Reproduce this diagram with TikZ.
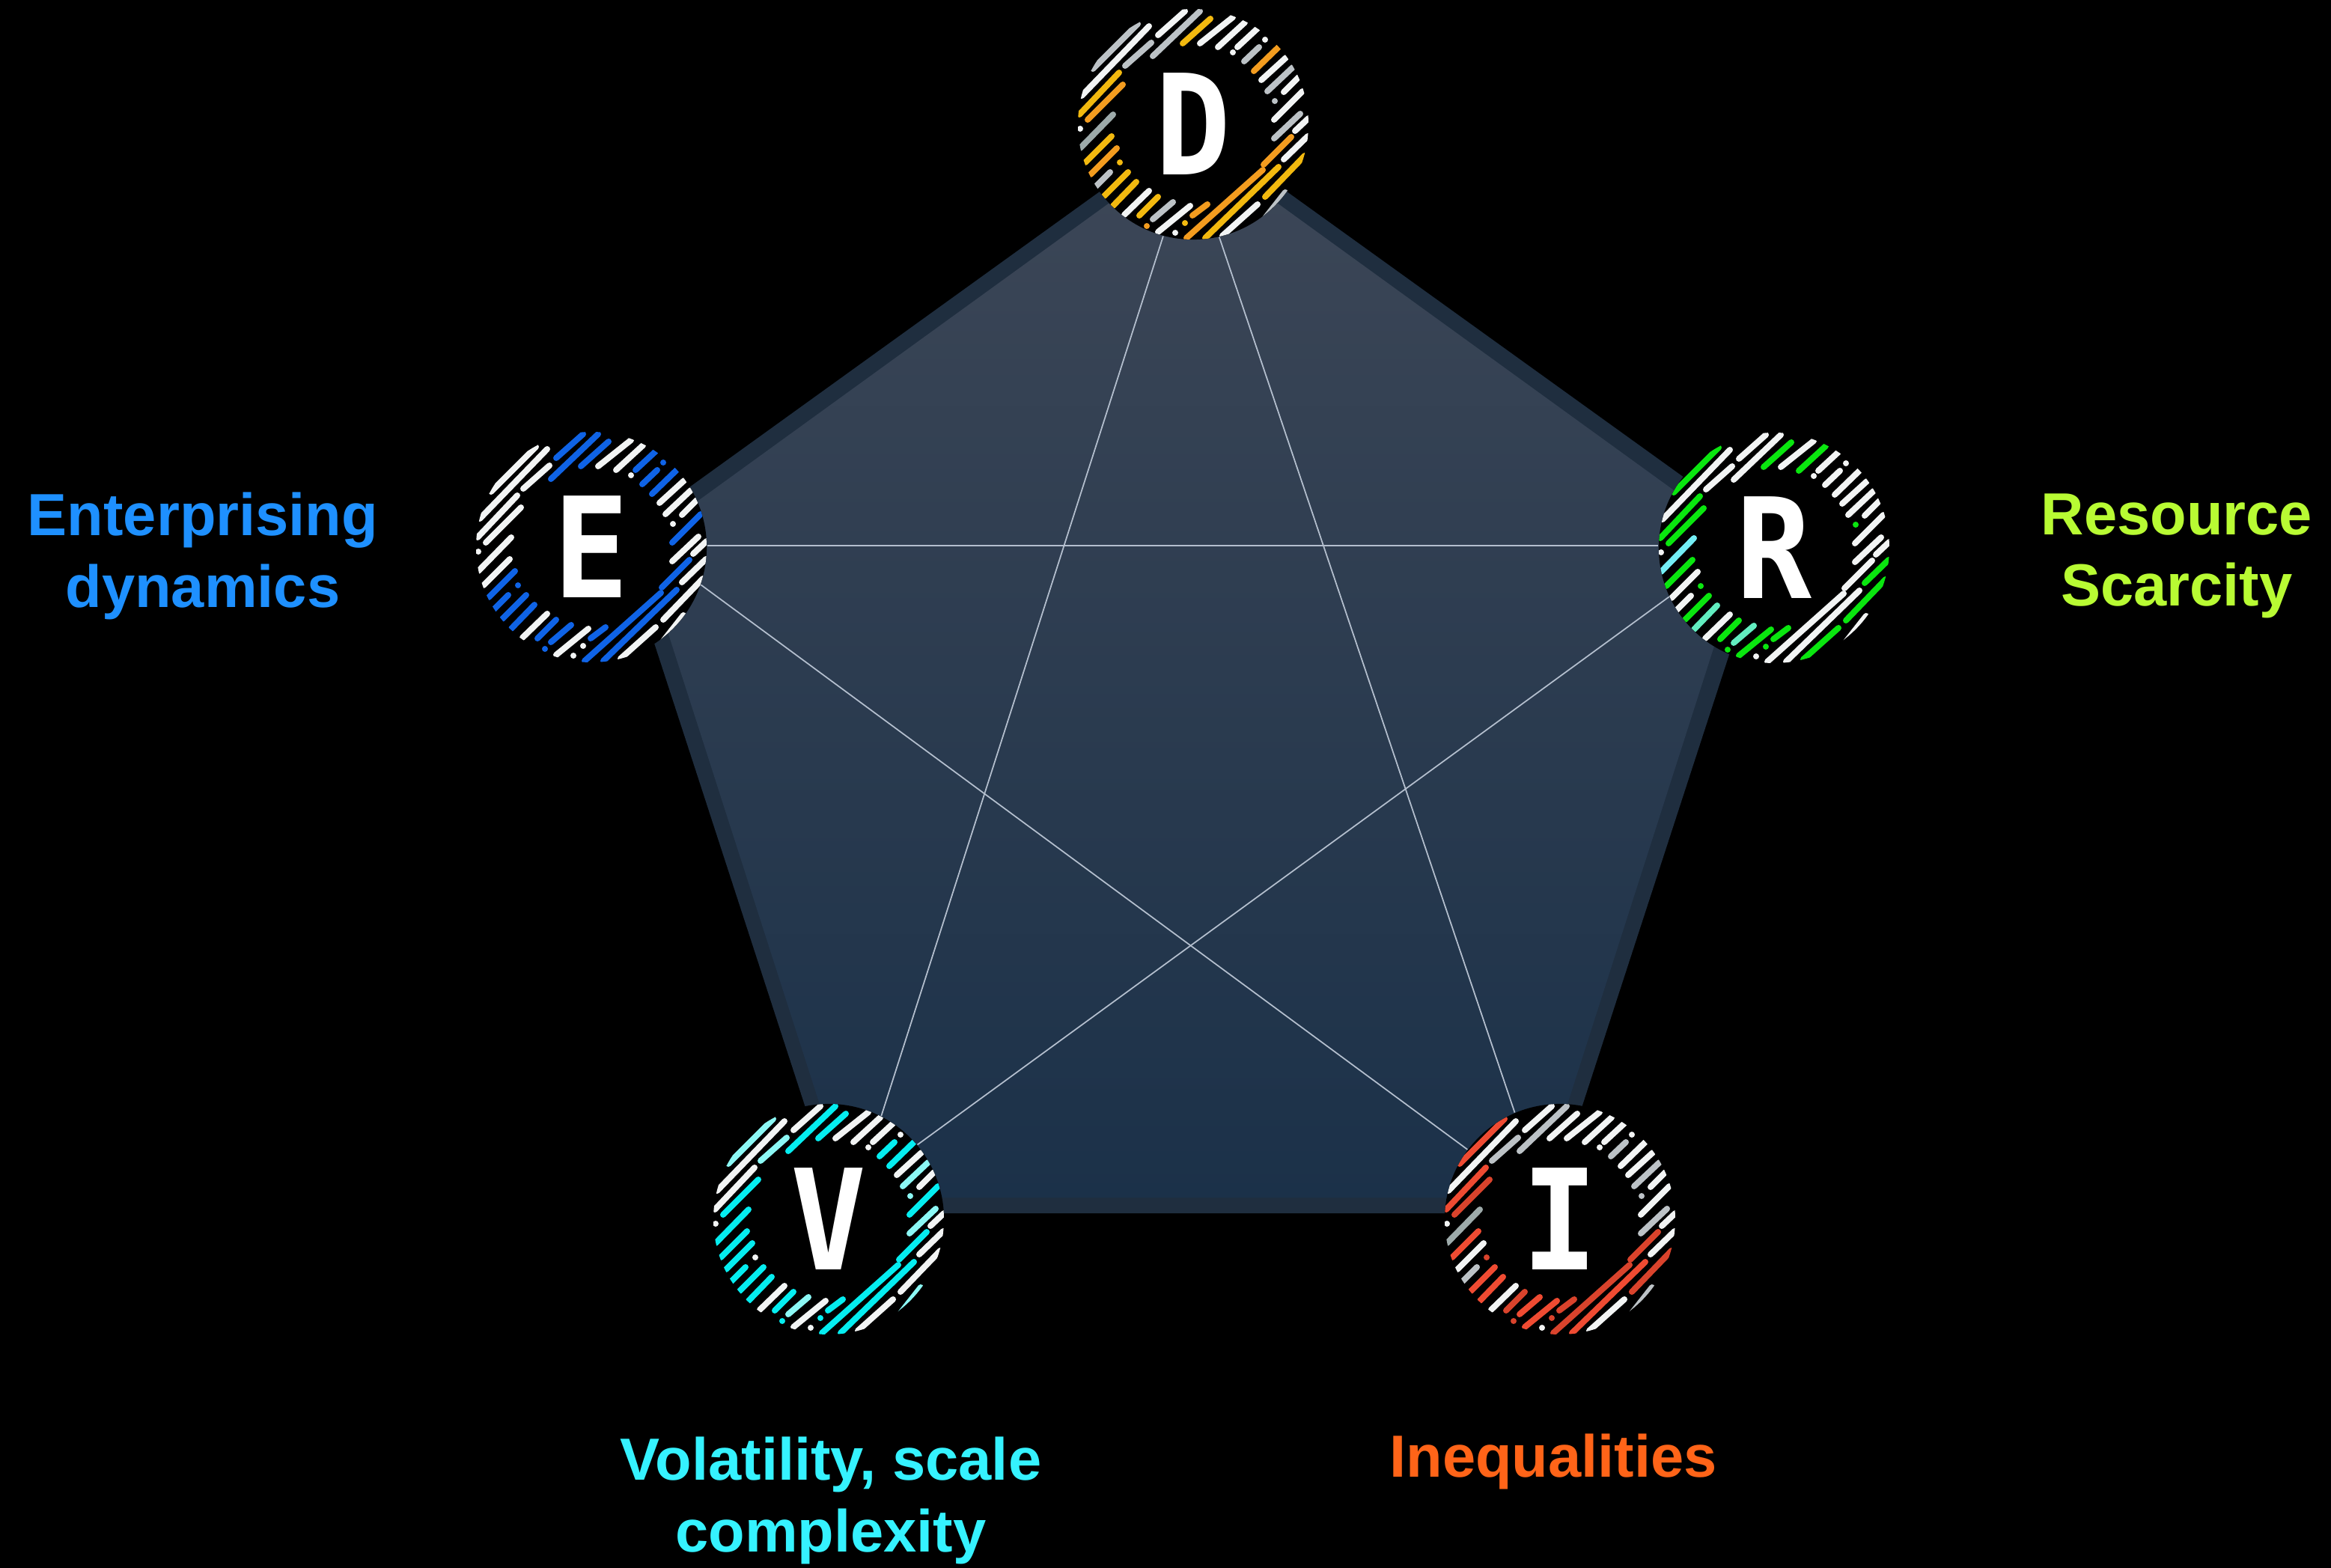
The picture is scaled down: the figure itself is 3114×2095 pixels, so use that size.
\documentclass[tikz,border=0pt]{standalone}
\usepackage{fontspec}
\setmainfont{Liberation Sans}
\newfontfamily\logofont[FakeStretch=0.9]{DejaVu Sans Mono}
\definecolor{bgk}{HTML}{000000}
\definecolor{rimc}{HTML}{1F2E3F}
\definecolor{padtop}{HTML}{3D4757}
\definecolor{padbot}{HTML}{1B3149}
\definecolor{linkc}{HTML}{B4BFCE}
\definecolor{w}{HTML}{F2F4F4}
\definecolor{g}{HTML}{BCC2C6}
\definecolor{s}{HTML}{9DAAAA}
\definecolor{yl}{HTML}{F2B90F}
\definecolor{or}{HTML}{F39C1F}
\definecolor{bl}{HTML}{0F63E6}
\definecolor{gn}{HTML}{0AE60F}
\definecolor{cy}{HTML}{74EEF5}
\definecolor{mt}{HTML}{62EDC0}
\definecolor{tq}{HTML}{05EDF0}
\definecolor{lt}{HTML}{8CF8F5}
\definecolor{rd}{HTML}{EF4B32}
\definecolor{dr}{HTML}{D9432C}
\definecolor{lblE}{HTML}{1E90FF}
\definecolor{lblR}{HTML}{B8FB33}
\definecolor{lblV}{HTML}{35F2FF}
\definecolor{lblI}{HTML}{FF6418}
\tikzset{
  x=0.01cm,y=-0.01cm,
  badge/.style={circle,fill=bgk,minimum size=3.08cm,inner sep=0pt,text=white,font=\logofont\bfseries\fontsize{53}{53}\selectfont},
  link/.style={draw=linkc,line width=0.5pt},
  stripe/.style={line width=0.08cm,line cap=round},
  lbl/.style={font=\bfseries\fontsize{22.6}{27.2}\selectfont,align=center,inner sep=0pt}
}
% stripe geometry: offsets from the badge centre, in px of the reference
\newcommand{\stripes}{-134/-74/-74/-134,-149/-38/-59/-131,-91/-78/-56/-109,-47/-119/-11/-151,-54/-91/9/-151,-14/-108/23/-141,9/-108/53/-143,33/-103/69/-136,59/-103/86/-128,96/-113/96/-113,53/-96/53/-96,68/-84/88/-103,81/-71/114/-103,91/-59/124/-89,99/-44/133/-76,121/-43/141/-63,109/-31/109/-31,108/-6/146/-44,108/19/143/-14,136/9/154/-8,121/47/153/16,94/54/131/17,96/97/149/42,16/152/114/57,-9/152/93/61,39/149/86/107,83/142/123/91,-1/122/19/107,-47/144/-4/109,-11/132/-11/132,-24/145/-24/145,-62/136/-62/136,-54/127/-27/104,-72/122/-47/97,-92/121/-59/89,-107/109/-76/77,-119/96/-87/64,-131/84/-111/64,-98/51/-98/51,-137/67/-102/32,-144/51/-109/16,-151/32/-107/-13,-151/6/-151/6,-141/-6/-94/-53,-152/-13/-99/-69}
% one colour per stripe, in the order of \stripes
\newcommand{\ring}[2]{%
  \begin{scope}
    \clip (#1) circle[radius=154];
    \foreach \c [count=\n] in {#2}{%
      \foreach \ax/\ay/\bx/\by [count=\m] in \stripes{%
        \ifnum\m=\n
          \draw[stripe,color=\c] ($(#1)+(\ax,\ay)$) -- ($(#1)+(\bx,\by)$);
        \fi
      }%
    }%
  \end{scope}%
}
\usetikzlibrary{calc}
\begin{document}
\begin{tikzpicture}
\useasboundingbox[fill=bgk] (0,0) rectangle (3114,2095);
% pentagon
\fill[rimc] (1594,166) -- (2361,718) -- (2067,1621) -- (1122,1621) -- (828,718) -- cycle;
\shade[top color=padtop,bottom color=padbot] (1594,190) -- (2334,726) -- (2054,1600) -- (1135,1600) -- (854,726) -- cycle;
% badges
\node[badge] (D) at (1594,166) {D};
\node[badge] (E) at (790,731) {E};
\node[badge] (R) at (2370,732) {R};
\node[badge] (V) at (1107,1629) {V};
\node[badge] (I) at (2084,1629) {I};
% links
\draw[link] (D.-105.7) -- (V.63.6);
\draw[link] (D.-77.3) -- (I.113.4);
\draw[link] ($(E.east)+(0,-2)$) -- ($(R.west)+(0,-3)$);
\draw[link] (E.-19.4) -- (I.143);
\draw[link] (R.205) -- (V.40.2);
% rings
\ring{D}{g,w,g,w,g,yl,w,w,w,w,w,g,or,w,g,w,g,w,g,w,w,or,yl,yl,or,w,g,or,w,yl,w,or,g,yl,w,yl,yl,g,yl,or,yl,s,w,or,yl}
\ring{E}{w,w,w,bl,bl,bl,w,w,bl,bl,w,bl,bl,w,w,w,w,bl,w,w,w,bl,w,bl,bl,w,w,bl,w,w,w,bl,bl,bl,w,bl,bl,bl,bl,bl,w,w,w,w,w}
\ring{R}{gn,w,w,w,w,gn,w,gn,w,w,w,w,w,w,w,w,gn,w,w,w,gn,w,gn,w,w,gn,w,gn,gn,gn,w,gn,mt,gn,w,mt,gn,w,gn,w,gn,cy,w,gn,gn}
\ring{V}{lt,w,lt,w,tq,tq,w,w,w,w,w,tq,tq,w,lt,w,lt,tq,lt,w,w,tq,w,tq,tq,w,lt,tq,w,tq,w,tq,lt,tq,w,tq,tq,tq,w,tq,tq,tq,w,tq,w}
\ring{I}{rd,w,g,w,g,w,w,w,w,w,w,g,w,w,g,w,g,w,g,w,w,dr,dr,rd,dr,w,g,dr,rd,dr,w,dr,rd,dr,w,rd,rd,g,dr,w,rd,s,w,dr,rd}
% labels
\node[lbl,text=lblE] (tE) at (271,743) {Enterprising\\dynamics};
\node[lbl,text=lblR] (tR) at (2908,743) {Resource\\Scarcity};
\node[lbl,text=lblV] (tV) at (1110,2005) {Volatility, scale\\complexity};
\node[lbl,text=lblI] (tI) at (2075,1953) {Inequalities};
\end{tikzpicture}
\end{document}
